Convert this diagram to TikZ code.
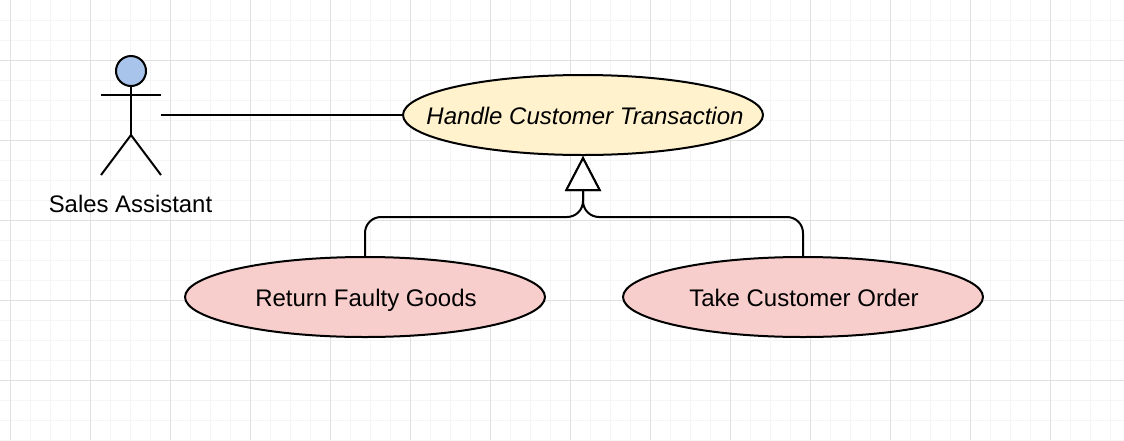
\documentclass[tikz,border=0pt]{standalone}
\usepackage{fontspec}
\setmainfont{Liberation Sans}
\usetikzlibrary{arrows.meta,shapes.geometric}
\definecolor{gridmajor}{HTML}{E0E0E0}
\definecolor{gridminor}{HTML}{F5F5F5}
\definecolor{usecaseyellow}{HTML}{FFF2CC}
\definecolor{usecasered}{HTML}{F8CECC}
\definecolor{actorblue}{HTML}{A9C4EB}
\newcommand{\zerow}[2]{\makebox[0pt][c]{\hspace*{#1}#2}}
\tikzset{
  usecase/.style={ellipse,draw=black,line width=2pt,minimum width=360pt,minimum height=80pt,inner sep=0pt,text height=19pt,text depth=0pt,font=\fontsize{24}{27}\selectfont},
  actorline/.style={line width=2pt,black},
  assoc/.style={line width=2pt,black},
  generalize/.style={line width=2pt,black,rounded corners=16pt,-{Triangle[open,length=35pt,width=36pt,fill=white]}},
  label/.style={font=\fontsize{23.9}{27}\selectfont,inner sep=0pt,text height=17pt,text depth=0pt}
}
\begin{document}
\begin{tikzpicture}[x=1pt,y=-1pt]
\useasboundingbox (0,0) rectangle (1124,440);
\fill[white] (0,0) rectangle (1124,440);
\foreach \x in {10,30,...,1124} \draw[gridminor,line width=1pt] (\x,0) -- (\x,440);
\foreach \y in {20,40,...,440} \draw[gridminor,line width=1pt] (0,\y) -- (1124,\y);
\foreach \x in {10,90,...,1124} \draw[gridmajor,line width=1pt] (\x,0) -- (\x,440);
\foreach \y in {60,140,...,440} \draw[gridmajor,line width=1pt] (0,\y) -- (1124,\y);
% actor
\node[minimum width=60pt,minimum height=120pt,inner sep=0pt,outer sep=0pt] (actor) at (131,115) {};
\draw[actorline] (131,86) -- (131,135);
\draw[actorline] (101,95) -- (161,95);
\draw[actorline] (101,175) -- (131,135) -- (161,175);
\draw[actorline,fill=actorblue] (131,71) circle (15);
\node[label] (actorlabel) at (130.5,204) {Sales Assistant};
% use cases
\node[usecase,fill=usecaseyellow] (hct) at (583,115) {\zerow{4pt}{\itshape Handle Customer Transaction}};
\node[usecase,fill=usecasered] (ret) at (365,297) {\zerow{2pt}{Return Faulty Goods}};
\node[usecase,fill=usecasered] (take) at (803,297) {\zerow{2pt}{Take Customer Order}};
\coordinate (junction) at (583,217);
% connectors
\draw[assoc] (actor.east) -- (hct.west);
\draw[generalize] (ret.north) |- (junction) -- (hct.south);
\draw[generalize] (take.north) |- (junction) -- (hct.south);
\end{tikzpicture}
\end{document}
